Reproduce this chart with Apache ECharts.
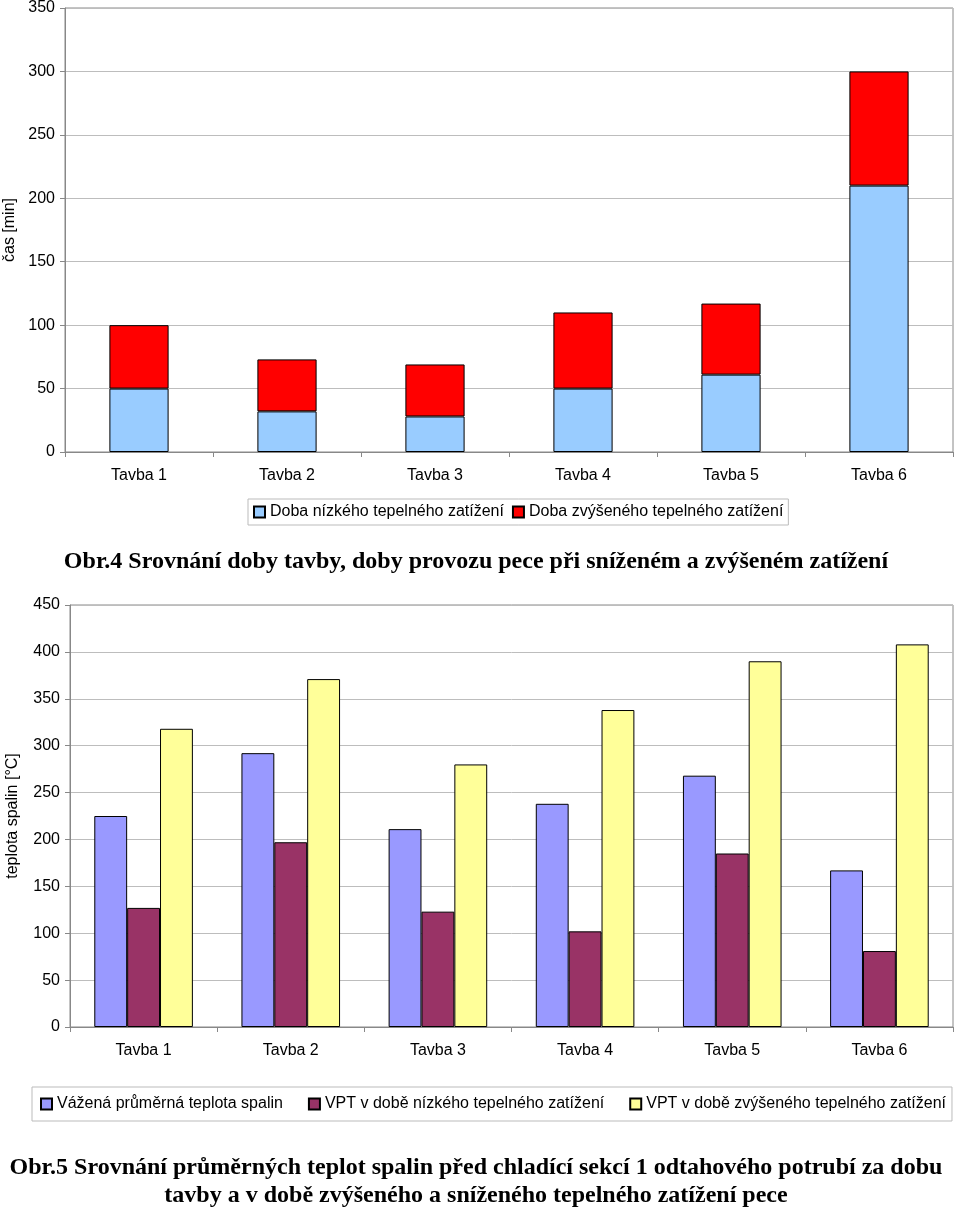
<!DOCTYPE html>
<html><head><meta charset="utf-8">
<script src="https://cdn.jsdelivr.net/npm/echarts@6/dist/echarts.min.js"></script>
<style>html,body{margin:0;padding:0;background:#fff}#c{width:960px;height:1210px}</style>
</head><body><div id="c"></div>
<script>
const categories = ['Tavba 1','Tavba 2','Tavba 3','Tavba 4','Tavba 5','Tavba 6'];
// Top chart (stacked, minutes)
const lowLoadTime = [50, 32, 28, 50, 61, 210];
const highLoadTime = [50, 41, 41, 60, 56, 90];
// Bottom chart (temperature °C)
const weightedAvgTemp = [225, 292, 211, 238, 268, 167];
const vptLowLoad = [127, 197, 123, 102, 185, 81];
const vptHighLoad = [318, 371, 280, 338, 390, 408];

const topNames = ['Doba nízkého tepelného zatížení','Doba zvýšeného tepelného zatížení'];
const botNames = ['Vážená průměrná teplota spalin','VPT v době nízkého tepelného zatížení','VPT v době zvýšeného tepelného zatížení'];
const caption1 = 'Obr.4 Srovnání doby tavby, doby provozu pece při sníženém a zvýšeném zatížení';
const caption2a = 'Obr.5 Srovnání průměrných teplot spalin před chladící sekcí 1 odtahového potrubí za dobu';
const caption2b = 'tavby a v době zvýšeného a sníženého tepelného zatížení pece';

const F = '"Liberation Sans", Arial, sans-serif';
const SERIF = '"Liberation Serif", "Times New Roman", serif';
const axisGray = '#888888';
const gridGray = '#bdbdbd';

const chart = echarts.init(document.getElementById('c'), null, {renderer:'canvas'});

function xAx(gi){
  return {type:'category', gridIndex:gi, data:categories,
    axisLine:{lineStyle:{color:axisGray,width:1}},
    axisTick:{show:true,length:5,lineStyle:{color:axisGray}},
    axisLabel:{color:'#000',fontFamily:F,fontSize:16,margin:16}};
}
function yAx(gi,max,name,gap){
  return {type:'value', gridIndex:gi, min:0, max:max, interval:50,
    name:name, nameLocation:'middle', nameRotate:90, nameGap:gap,
    nameTextStyle:{color:'#000',fontFamily:F,fontSize:16},
    axisLine:{show:true,lineStyle:{color:axisGray,width:1}},
    axisTick:{show:true,length:5,lineStyle:{color:axisGray}},
    axisLabel:{color:'#000',fontFamily:F,fontSize:16,margin:10},
    splitLine:{lineStyle:{color:gridGray,width:1}}};
}
const bstyle = c => ({color:c,borderColor:'#000',borderWidth:1});

chart.setOption({
  animation:false,
  backgroundColor:'#fff',
  grid:[
    {left:65,top:8,right:7,height:444,show:true,borderColor:axisGray,borderWidth:1,outerBoundsMode:'none',containLabel:false},
    {left:70,top:605,right:7,height:422,show:true,borderColor:axisGray,borderWidth:1,outerBoundsMode:'none',containLabel:false}
  ],
  xAxis:[xAx(0),xAx(1)],
  yAxis:[yAx(0,350,'čas [min]',46),yAx(1,450,'teplota spalin [°C]',49)],
  legend:[
    {data:topNames, left:248, top:499, width:600, orient:'horizontal', icon:'rect',
     itemWidth:11,itemHeight:11,itemGap:8,padding:[5,5,5,5],
     borderColor:'#bbb',borderWidth:1,
     textStyle:{color:'#000',fontFamily:F,fontSize:16}},
    {data:botNames, left:32, top:1087, width:930, orient:'horizontal', icon:'rect',
     itemWidth:11,itemHeight:11,itemGap:25,padding:[9,6,9,8],
     borderColor:'#bbb',borderWidth:1,
     textStyle:{color:'#000',fontFamily:F,fontSize:16}}
  ],
  series:[
    {name:topNames[0],type:'bar',stack:'t',xAxisIndex:0,yAxisIndex:0,data:lowLoadTime,barWidth:'40%',itemStyle:bstyle('#99ccff')},
    {name:topNames[1],type:'bar',stack:'t',xAxisIndex:0,yAxisIndex:0,data:highLoadTime,barWidth:'40%',itemStyle:bstyle('#ff0000')},
    {name:botNames[0],type:'bar',xAxisIndex:1,yAxisIndex:1,data:weightedAvgTemp,barGap:'0%',barCategoryGap:'33%',itemStyle:bstyle('#9999ff')},
    {name:botNames[1],type:'bar',xAxisIndex:1,yAxisIndex:1,data:vptLowLoad,barGap:'0%',barCategoryGap:'33%',itemStyle:bstyle('#993366')},
    {name:botNames[2],type:'bar',xAxisIndex:1,yAxisIndex:1,data:vptHighLoad,barGap:'0%',barCategoryGap:'33%',itemStyle:bstyle('#ffff99')}
  ],
  graphic:[
    {type:'text',x:476,y:562,style:{text:caption1,font:'bold 24px '+SERIF,fill:'#000',align:'center',verticalAlign:'middle'}},
    {type:'text',x:476,y:1168,style:{text:caption2a,font:'bold 24px '+SERIF,fill:'#000',align:'center',verticalAlign:'middle'}},
    {type:'text',x:476,y:1196,style:{text:caption2b,font:'bold 24px '+SERIF,fill:'#000',align:'center',verticalAlign:'middle'}}
  ]
});
</script></body></html>
